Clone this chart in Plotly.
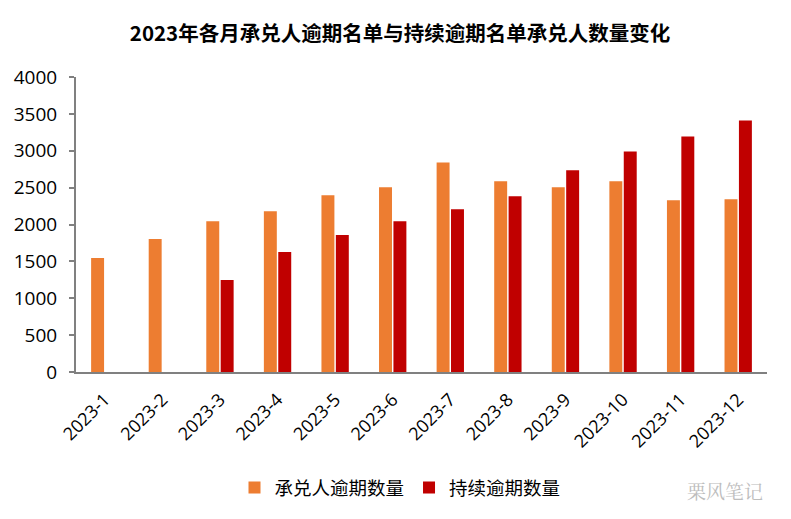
import plotly.graph_objects as go

months = ["2023-1", "2023-2", "2023-3", "2023-4", "2023-5", "2023-6",
          "2023-7", "2023-8", "2023-9", "2023-10", "2023-11", "2023-12"]
acceptor_overdue = [1545, 1802, 2045, 2180, 2396, 2505, 2842, 2586, 2505, 2586, 2329, 2342]
continuous_overdue = [None, None, 1248, 1626, 1856, 2045, 2207, 2383, 2734, 2991, 3194, 3410]
y_ticks = [0, 500, 1000, 1500, 2000, 2500, 3000, 3500, 4000]

FONT = "Noto Sans CJK SC"
NUMFONT = "Open Sans, Noto Sans CJK SC"

# page body adds an 8px offset, so the figure is sized to fit the window
W, H = 783, 511

fig = go.Figure()
fig.add_trace(go.Bar(x=months, y=acceptor_overdue, name="承兑人逾期数量",
                     marker=dict(color="#ED7D31", line=dict(width=0))))
fig.add_trace(go.Bar(x=months, y=continuous_overdue, name="持续逾期数量",
                     marker=dict(color="#C00000", line=dict(width=0))))

fig.update_layout(
    width=W, height=H,
    margin=dict(l=68, r=24, t=69, b=147, autoexpand=False),
    paper_bgcolor="white", plot_bgcolor="white",
    font=dict(family=FONT, size=17, color="black"),
    title=dict(text="<b>2023年各月承兑人逾期名单与持续逾期名单承兑人数量变化</b>",
               x=392 / W, xanchor="center", xref="container",
               y=1 - 26 / H, yanchor="middle", yref="container",
               font=dict(family=FONT, size=20.5, color="black")),
    barmode="group", bargap=0.5, bargroupgap=0.1,
    showlegend=True,
    legend=dict(orientation="h", xref="container", x=392 / W, xanchor="center",
                yref="container", y=1 - 480 / H, yanchor="middle",
                font=dict(family=FONT, size=18.5, color="black"),
                itemwidth=30, traceorder="normal"),
    annotations=[dict(text="栗风笔记", xref="paper", yref="paper",
                      x=0.997, y=-0.40, xanchor="right", yanchor="middle",
                      showarrow=False,
                      font=dict(family="Noto Serif CJK SC, Noto Sans CJK SC", size=19, color="#BDBDBD"))],
)
fig.update_xaxes(type="category", showline=True, linecolor="#808080", linewidth=2,
                 ticks="", tickangle=-45, showgrid=False, automargin=False,
                 ticklabelstandoff=8,
                 tickfont=dict(family=NUMFONT, size=18, color="black"))
fig.update_yaxes(range=[0, 4000], tickvals=y_ticks, showline=True, automargin=False,
                 linecolor="#808080", linewidth=2, ticks="outside", ticklen=5,
                 tickcolor="#808080", tickwidth=2, showgrid=False, zeroline=False,
                 ticklabelstandoff=8,
                 tickfont=dict(family=NUMFONT, size=19, color="black"))

fig.write_html("out.html")
